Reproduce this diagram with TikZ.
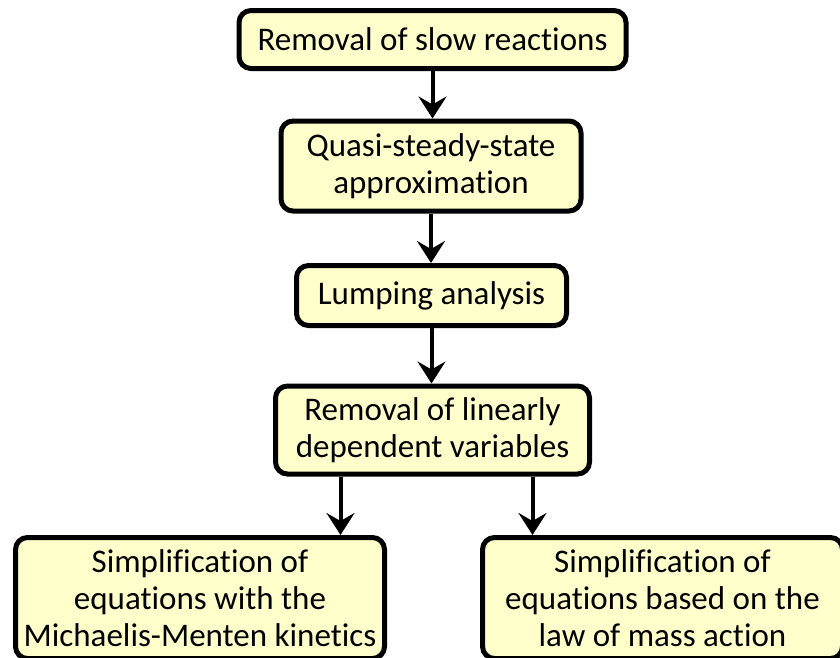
\documentclass[tikz,border=0pt]{standalone}
\usepackage{fontspec}
\setmainfont{Carlito}[Ligatures=NoCommon]
\usetikzlibrary{arrows.meta}
\definecolor{boxfill}{RGB}{255,255,204}
\tikzset{
  stepbox/.style={draw=black, line width=5pt, fill=boxfill, rounded corners=12pt,
    align=center, inner sep=0pt, font=\fontsize{33}{37}\selectfont},
  flow/.style={line width=4pt, -{Stealth[length=22pt, width=28pt, inset=8pt]}}
}
\begin{document}
\begin{tikzpicture}[x=1pt, y=-1pt]
  \useasboundingbox (0,0) rectangle (840,657);
  \begin{scope}
    \clip (0,0) rectangle (840,657);
    \node[stepbox, minimum width=387pt, minimum height=58pt] (slow) at (432.5,39.5) {Removal of slow reactions};
    \node[stepbox, minimum width=300pt, minimum height=90pt] (qss) at (431,166) {Quasi-steady-state\\approximation};
    \node[stepbox, minimum width=270pt, minimum height=60pt] (lump) at (431.5,295.5) {Lumping analysis};
    \node[stepbox, minimum width=314pt, minimum height=88pt] (lin) at (432.5,430) {Removal of linearly\\dependent variables};
    \node[stepbox, minimum width=369pt, minimum height=121pt] (mm) at (200,598) {Simplification of\\equations with the\\Michaelis-Menten kinetics};
    \node[stepbox, minimum width=360pt, minimum height=121pt] (mass) at (662.5,598) {Simplification of\\equations based on the\\law of mass action};

    \coordinate (lin-l) at ([xshift=-92pt]lin.south);
    \coordinate (lin-r) at ([xshift=100pt]lin.south);

    \draw[flow] (slow.south) -- (slow.south |- qss.north);
    \draw[flow] (qss.south) -- (qss.south |- lump.north);
    \draw[flow] (lump.south) -- (lump.south |- lin.north);
    \draw[flow] (lin-l) -- (lin-l |- mm.north);
    \draw[flow] (lin-r) -- (lin-r |- mass.north);
  \end{scope}
\end{tikzpicture}
\end{document}
